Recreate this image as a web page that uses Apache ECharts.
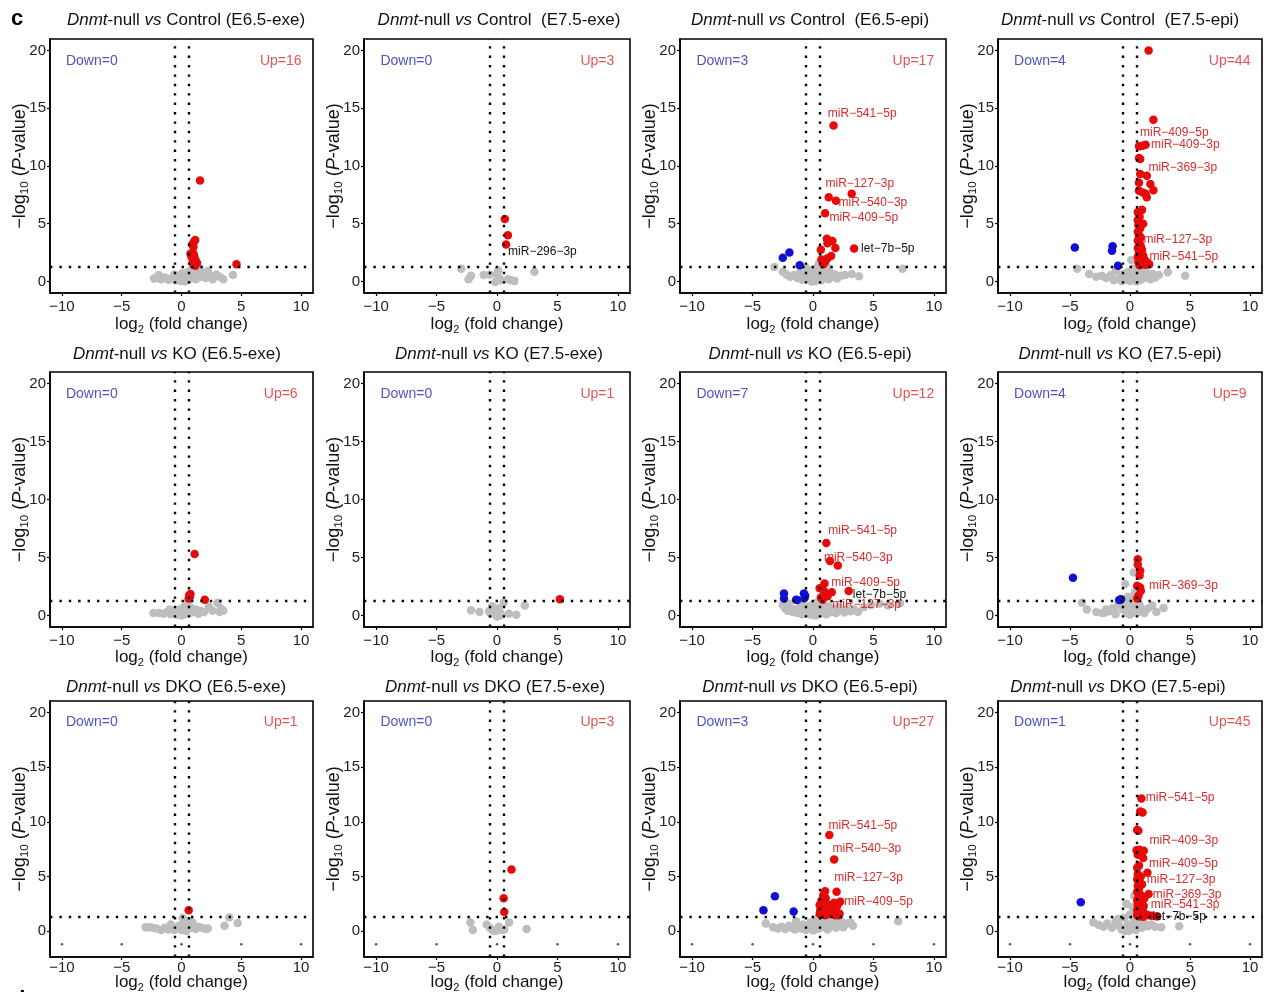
<!DOCTYPE html>
<html><head><meta charset="utf-8">
<script src="https://cdn.jsdelivr.net/npm/echarts@6/dist/echarts.min.js"></script>
<style>html,body{margin:0;padding:0;background:#fff}#c{width:1271px;height:992px}</style>
</head><body><div id="c"></div>
<script>
// ---------------- DATA ----------------
const panelTitles = [
  'Dnmt-null vs Control (E6.5-exe)', 'Dnmt-null vs Control  (E7.5-exe)', 'Dnmt-null vs Control  (E6.5-epi)', 'Dnmt-null vs Control  (E7.5-epi)',
  'Dnmt-null vs KO (E6.5-exe)', 'Dnmt-null vs KO (E7.5-exe)', 'Dnmt-null vs KO (E6.5-epi)', 'Dnmt-null vs KO (E7.5-epi)',
  'Dnmt-null vs DKO (E6.5-exe)', 'Dnmt-null vs DKO (E7.5-exe)', 'Dnmt-null vs DKO (E6.5-epi)', 'Dnmt-null vs DKO (E7.5-epi)'
];
const downCounts = [0, 0, 3, 4, 0, 0, 7, 4, 0, 0, 3, 1];
const upCounts = [16, 3, 17, 44, 6, 1, 12, 9, 1, 3, 27, 45];
const xTicks = [-10, -5, 0, 5, 10];
const yTicks = [0, 5, 10, 15, 20];
const xLimits = [-11, 11];
const yLimitsUpper = [-1, 21];
const yLimitsLower = [-2.37, 21.07];
const fcThreshold = 0.585;
const pThreshold = 1.301;

// Panel 1: Control E6.5-exe
const gray1 = [[-2.3,0.25],[-2.0,0.3],[-1.9,0.55],[-1.7,0.2],[-1.4,0.35],[-1.1,0.15],[-0.8,0.3],[-0.6,0.6],[-0.5,0.1],[-0.3,0.4],[-0.1,0.05],[0.05,0.7],[0.1,0.2],[0.2,0.5],[0.3,0.0],[0.4,0.3],[0.5,0.8],[0.6,0.15],[0.7,0.6],[0.8,1.0],[0.9,0.4],[1.0,0.85],[1.2,0.2],[1.3,0.6],[1.5,1.1],[1.6,0.4],[1.8,0.7],[2.0,0.3],[2.2,0.9],[2.4,0.5],[2.6,0.2],[2.9,0.6],[3.2,0.4],[3.5,0.2],[4.3,0.55]];
const blue1 = [];
const red1 = [[1.55,8.75],[4.6,1.5],[1.15,3.6],[1.05,3.45],[0.9,3.2],[1.0,3.0],[0.75,2.4],[0.95,2.5],[1.05,2.3],[0.85,2.1],[1.1,2.0],[1.2,1.8],[1.3,1.6],[0.95,1.7],[1.0,1.45],[1.15,1.35]];

// Panel 2: Control E7.5-exe
const gray2 = [[-2.95,1.1],[-2.15,0.5],[-2.35,0.2],[-1.1,0.55],[-0.6,0.6],[-0.15,-0.05],[0.0,0.6],[0.1,0.95],[0.2,0.25],[0.3,0.1],[0.9,0.2],[1.2,0.1],[1.45,0.05],[3.1,0.85]];
const blue2 = [];
const red2 = [[0.65,5.4],[0.9,4.0],[0.75,3.2,'miR-296-3p']];

// Panel 3: Control E6.5-epi
const gray3 = [[-3.2,1.25],[-2.5,0.85],[-2.2,0.6],[-1.9,0.4],[-1.6,0.55],[-1.3,0.3],[-1.1,0.7],[-0.9,0.15],[-0.7,0.45],[-0.5,0.9],[-0.35,0.2],[-0.2,0.6],[-0.1,0.0],[0.0,1.0],[0.1,0.35],[0.2,0.05],[0.3,0.7],[0.4,1.3],[0.45,0.25],[0.5,1.6],[0.6,0.5],[0.7,0.1],[0.8,0.8],[0.9,0.35],[1.0,1.1],[1.15,0.55],[1.3,0.2],[1.45,0.75],[1.6,0.4],[1.8,0.6],[2.0,0.25],[2.3,0.5],[2.65,0.55],[3.2,0.65],[3.8,0.45],[7.4,1.1],[-0.6,1.2],[1.2,1.25]];
const blue3 = [[-2.5,2.05],[-1.95,2.5],[-1.1,1.4]];
const red3 = [[1.7,13.5,'miR-541-5p'],[3.2,7.6,'miR-127-3p'],[1.3,7.3],[1.9,7.0,'miR-540-3p'],[1.0,5.9,'miR-409-5p'],[1.15,3.7],[1.3,3.55],[1.6,3.5],[1.2,3.3],[0.65,2.75],[1.85,2.9],[3.4,2.85,'let-7b-5p'],[1.5,2.2],[0.7,1.9],[1.0,1.7],[1.2,2.0],[0.85,1.5]];

// Panel 4: Control E7.5-epi
const gray4 = [[-4.4,1.1],[-3.4,0.65],[-2.8,0.4],[-2.35,0.5],[-2.0,0.3],[-1.6,0.55],[-1.35,0.1],[-1.15,0.95],[-0.9,0.3],[-0.7,0.05],[-0.6,0.6],[-0.4,0.15],[-0.2,0.8],[0.0,0.05],[0.1,0.45],[0.1,1.85],[0.25,1.1],[0.3,0.25],[0.45,0.7],[0.55,0.0],[0.6,1.3],[0.7,0.4],[0.8,0.9],[0.9,0.15],[1.0,0.6],[1.15,1.2],[1.2,0.3],[1.35,0.8],[1.5,0.45],[1.7,0.2],[1.9,0.65],[2.1,0.35],[2.4,0.55],[3.15,0.8],[4.6,0.5]];
const blue4 = [[-4.6,2.95],[-1.45,3.05],[-1.5,2.65],[-1.0,1.35]];
const red4 = [[1.55,20.0],[1.95,14.0],[0.75,11.7],[1.05,11.75,'miR-409-5p'],[1.3,11.85,'miR-409-3p'],[0.75,10.7],[0.85,10.6],[0.85,9.3],[1.4,9.15,'miR-369-3p'],[0.75,8.55],[1.7,8.45],[1.95,7.9],[0.75,7.85],[1.05,7.7],[1.3,7.6],[1.4,7.3],[1.0,6.2],[0.65,6.0],[0.8,5.6],[0.65,5.3],[1.1,5.0],[0.7,4.9],[0.85,4.6],[0.65,4.3],[0.75,4.0],[0.9,3.8],[0.65,3.55,'miR-127-3p'],[0.8,3.3],[0.9,3.05],[0.65,2.9],[1.0,2.75],[0.75,2.6],[0.85,2.4],[1.1,2.25],[0.65,2.15,'miR-541-5p'],[0.9,2.0],[1.2,1.9],[1.3,1.75],[0.7,1.7],[1.45,1.6],[1.0,1.5],[1.3,1.45],[0.8,1.4],[1.6,1.5]];

// Panel 5: KO E6.5-exe
const gray5 = [[-2.35,0.2],[-1.9,0.2],[-1.5,0.15],[-1.2,0.3],[-1.0,0.5],[-0.9,0.1],[-0.6,0.35],[-0.4,0.05],[-0.2,0.5],[0.0,0.0],[0.1,0.3],[0.2,0.7],[0.3,0.1],[0.45,1.0],[0.5,0.45],[0.6,0.9],[0.7,0.2],[0.85,0.6],[1.0,0.3],[1.2,0.5],[1.4,0.15],[1.6,0.4],[1.9,0.3],[2.3,0.75],[2.6,0.4],[3.0,1.1],[3.2,0.3],[3.3,0.6],[3.5,0.4]];
const blue5 = [];
const red5 = [[1.1,5.3],[0.75,1.85],[0.65,1.75],[0.7,1.6],[1.95,1.35],[0.6,1.45]];

// Panel 6: KO E7.5-exe
const gray6 = [[-2.15,0.45],[-1.45,0.3],[-0.65,0.35],[-0.5,0.15],[-0.4,0.8],[-0.25,0.3],[-0.1,0.5],[0.0,-0.1],[0.1,0.6],[0.2,0.0],[0.25,0.25],[0.35,0.05],[0.55,1.1],[1.0,0.15],[1.6,0.05],[2.3,0.85]];
const blue6 = [];
const red6 = [[5.2,1.4]];

// Panel 7: KO E6.5-epi
const gray7 = [[-2.5,0.9],[-2.3,0.6],[-2.1,0.4],[-2.0,1.0],[-1.9,0.7],[-1.7,0.3],[-1.5,0.5],[-1.3,0.2],[-1.1,0.6],[-1.0,1.0],[-0.9,0.1],[-0.8,0.4],[-0.6,0.8],[-0.5,0.2],[-0.3,0.5],[-0.2,0.05],[-0.1,0.9],[0.0,0.3],[0.1,0.6],[0.2,0.0],[0.3,1.1],[0.35,0.4],[0.5,0.7],[0.6,0.15],[0.7,1.0],[0.8,0.35],[1.0,0.6],[1.1,0.1],[1.3,0.8],[1.5,0.3],[1.7,0.55],[1.9,0.2],[2.1,0.7],[2.3,0.4],[2.6,0.25],[2.8,0.6],[3.1,0.35],[3.4,0.5],[3.7,0.3],[4.2,0.7],[4.8,0.9],[5.5,1.0],[6.2,0.85],[7.2,1.05]];
const blue7 = [[-2.4,1.9],[-2.4,1.45],[-1.4,1.35],[-0.75,1.9],[-0.65,1.7],[-0.7,1.5],[-1.3,1.32]];
const red7 = [[1.1,6.25,'miR-541-5p'],[1.4,4.7,'miR-540-3p'],[2.05,4.3],[0.95,2.75,'miR-409-5p'],[0.55,2.35],[2.95,2.1,'let-7b-5p'],[1.55,2.0],[0.9,2.1],[1.2,1.65],[0.65,1.55],[0.8,1.35,'miR-127-3p'],[1.0,1.85]];

// Panel 8: KO E7.5-epi
const gray8 = [[-4.0,1.1],[-3.6,0.5],[-2.8,0.3],[-2.3,0.2],[-2.1,0.25],[-2.0,0.5],[-1.8,0.35],[-1.5,0.6],[-1.3,0.3],[-1.2,0.1],[-1.0,0.9],[-0.6,0.5],[-0.4,2.7],[-0.4,1.1],[-0.3,0.2],[-0.2,1.6],[-0.1,0.7],[0.0,0.05],[0.1,1.5],[0.2,0.4],[0.3,3.7],[0.3,1.0],[0.4,2.0],[0.45,0.25],[0.5,0.6],[0.55,1.2],[0.7,0.3],[0.8,0.9],[1.0,0.5],[1.2,0.2],[1.5,0.6],[1.85,0.85],[2.2,0.3],[2.8,0.65]];
const blue8 = [[-4.75,3.25],[-0.8,1.35],[-0.75,1.4],[-0.9,1.32]];
const red8 = [[0.65,4.85],[0.65,4.4],[0.85,3.85],[0.8,3.45],[0.6,2.55],[0.85,2.4,'miR-369-3p'],[0.9,2.1],[0.7,1.7],[0.6,1.45]];

// Panel 9: DKO E6.5-exe
const gray9 = [[-3.0,0.35],[-2.7,0.35],[-2.4,0.3],[-2.1,0.25],[-1.7,0.1],[-1.4,0.3],[-1.1,0.15],[-0.9,0.6],[-0.8,0.4],[-0.6,0.1],[-0.4,0.3],[-0.2,0.5],[0.0,0.1],[0.1,1.2],[0.2,0.7],[0.3,0.35],[0.4,0.0],[0.5,0.5],[0.6,0.9],[0.8,0.3],[0.9,0.8],[1.0,0.55],[1.2,0.2],[1.4,0.4],[1.7,0.3],[2.0,0.2],[2.2,0.25],[3.6,0.5],[4.0,1.25],[4.7,0.75]];
const blue9 = [];
const red9 = [[0.6,1.9]];

// Panel 10: DKO E7.5-exe
const gray10 = [[-2.2,0.8],[-2.0,0.1],[-0.85,0.6],[-0.6,0.3],[-0.4,0.1],[-0.2,0.0],[0.0,0.05],[0.15,0.4],[0.4,0.1],[0.6,0.15],[1.0,0.8],[2.45,0.2]];
const blue10 = [];
const red10 = [[1.2,5.65],[0.55,3.0],[0.6,1.75]];

// Panel 11: DKO E6.5-epi
const gray11 = [[-3.9,0.7],[-3.3,0.35],[-2.9,0.25],[-2.6,0.4],[-2.3,0.2],[-2.0,0.5],[-1.8,0.3],[-1.5,0.15],[-1.4,0.9],[-1.2,0.45],[-1.0,0.25],[-0.8,0.6],[-0.6,0.1],[-0.4,0.35],[-0.2,0.8],[0.0,0.05],[0.1,0.5],[0.25,1.1],[0.35,0.2],[0.5,0.65],[0.6,0.3],[0.75,1.0],[0.9,0.4],[1.05,0.7],[1.2,0.15],[1.35,1.2],[1.5,0.45],[1.7,0.8],[1.9,0.3],[2.1,0.6],[2.3,0.95],[2.5,0.35],[2.8,0.7],[3.1,0.8],[3.3,0.5],[7.05,0.9]];
const blue11 = [[-3.15,3.2],[-4.1,1.9],[-1.6,1.8]];
const red11 = [[1.35,8.8,'miR-541-5p'],[1.75,6.55,'miR-540-3p'],[1.95,3.6,'miR-127-3p'],[1.0,3.65],[0.85,3.3],[1.05,3.0],[0.7,2.8],[0.55,2.4],[0.9,2.5],[1.3,2.4],[1.5,2.2],[1.75,2.6],[2.25,2.7,'miR-409-5p'],[2.0,2.3],[0.6,1.9],[0.8,2.0],[1.1,1.9],[1.4,1.8],[1.6,1.6],[1.9,1.7],[2.2,1.6],[0.7,1.5],[1.0,1.45],[1.25,1.55],[1.85,1.45],[2.1,1.45],[0.55,1.6]];

// Panel 12: DKO E7.5-epi
const gray12 = [[-3.05,0.8],[-2.6,0.55],[-2.2,0.4],[-1.9,0.7],[-1.5,0.3],[-1.2,0.9],[-1.0,1.1],[-0.9,0.5],[-0.7,0.15],[-0.5,1.2],[-0.4,0.0],[-0.3,2.5],[-0.2,0.6],[-0.1,0.0],[0.0,1.5],[0.1,0.3],[0.2,2.2],[0.3,1.2],[0.35,3.25],[0.4,0.8],[0.5,0.1],[0.5,1.8],[0.65,0.45],[0.8,1.0],[1.0,0.3],[1.2,0.7],[1.5,0.45],[1.8,0.6],[2.1,0.4],[2.6,0.35],[4.1,0.45]];
const blue12 = [[-4.1,2.65]];
const red12 = [[0.95,12.15,'miR-541-5p'],[0.85,10.95],[1.05,10.85],[0.6,9.25],[0.7,9.2],[0.55,7.4],[0.8,7.45],[1.15,7.35,'miR-409-3p'],[0.65,7.0],[1.1,6.7,'miR-409-5p'],[0.75,6.0],[0.6,5.8],[1.45,5.35,'miR-127-3p'],[0.65,5.2],[0.9,5.0],[0.6,4.75],[0.8,4.5],[1.0,4.3],[0.65,4.15],[0.75,3.9],[0.6,3.6],[1.55,3.4,'miR-369-3p'],[0.9,3.3],[0.7,3.1],[1.2,3.0,'miR-541-3p'],[0.6,2.8],[0.85,2.65],[1.0,2.5],[0.65,2.35],[1.15,2.3],[0.75,2.15],[0.9,2.0],[0.6,1.9],[1.05,1.85],[0.7,1.7],[1.2,1.6],[0.85,1.55],[1.35,1.5],[0.6,1.45],[1.0,1.4],[1.5,1.45],[0.75,1.35],[2.25,1.35,'let-7b-5p'],[1.8,1.4],[1.1,1.32]];

// small marks along the bottom of the DKO panels
const bottomMarks = [[-10,-1.2],[-5,-1.2],[0,-1.2],[5,-1.2],[10,-1.2]];

const grays = [gray1,gray2,gray3,gray4,gray5,gray6,gray7,gray8,gray9,gray10,gray11,gray12];
const blues = [blue1,blue2,blue3,blue4,blue5,blue6,blue7,blue8,blue9,blue10,blue11,blue12];
const reds = [red1,red2,red3,red4,red5,red6,red7,red8,red9,red10,red11,red12];

// ---------------- LAYOUT / STYLE ----------------
const FONT = "'Liberation Sans', Arial, Helvetica, sans-serif";
const colLeft = [50, 364, 680, 998];
const colRight = [313, 630, 946, 1262];
const rowTop = [39, 372, 701];
const rowBottom = [293, 627, 957];
const titleX = [[186, 499, 810, 1120], [177, 499, 810, 1120], [176, 495, 810, 1118]];
const titleY = [20, 354, 687];
const xNameGap = [20, 19, 14];
const labelOffsets = [
  {}, {'miR-296-3p': [2, 7]},
  {'miR-541-5p': [-5.7, -12.4], 'miR-127-3p': [-26.2, -9.6], 'miR-540-3p': [2.6, 1.8], 'miR-409-5p': [4.3, 4.4], 'let-7b-5p': [7, 0]},
  {'miR-409-5p': [-2.6, -13.2], 'miR-409-3p': [5.4, 0.3], 'miR-369-3p': [1.6, -8], 'miR-127-3p': [5.6, -1.2], 'miR-541-5p': [11.6, 0]},
  {}, {},
  {'miR-541-5p': [2, -12.6], 'miR-540-3p': [-6, -3.2], 'miR-409-5p': [6.8, -0.8], 'let-7b-5p': [4.2, 4], 'miR-127-3p': [9.6, 4.6]},
  {'miR-369-3p': [8.9, -1.5]},
  {}, {},
  {'miR-541-5p': [-0.8, -9.5], 'miR-540-3p': [-1.6, -10.4], 'miR-127-3p': [-2.4, -14.3], 'miR-409-5p': [4, 0]},
  {'miR-541-5p': [4.4, -1.2], 'miR-409-3p': [5.7, -10.3], 'miR-409-5p': [5.9, 5.3], 'miR-127-3p': [-0.6, 7.2], 'miR-369-3p': [4.2, 0.5], 'miR-541-3p': [6.4, 6.5], 'let-7b-5p': [-4.5, 0]}
];
const blackLabels = ['miR-296-3p', 'let-7b-5p'];
const RED = '#E60A0A', BLUE = '#1010D4', GRAY = '#BEBEBE';
const RED_TXT = '#D92B2B', BLUE_TXT = '#2424B4';
const minus = s => String(s).replace(/-/g, '\u2212');

const grids = [], xAxes = [], yAxes = [], series = [], graphics = [];

for (let i = 0; i < 12; i++) {
  const r = Math.floor(i / 4), c = i % 4;
  const lower = r === 2;
  grids.push({
    left: colLeft[c], top: rowTop[r], width: colRight[c] - colLeft[c], height: rowBottom[r] - rowTop[r],
    show: true, borderColor: '#000', borderWidth: 1.6, backgroundColor: '#fff', outerBoundsMode: 'none'
  });
  xAxes.push({
    type: 'value', gridIndex: i, min: xLimits[0], max: xLimits[1],
    axisLine: {show: true, onZero: false, lineStyle: {color: '#000', width: 1.6}},
    axisTick: {show: true, customValues: xTicks, length: 3, lineStyle: {color: '#000', width: 1.2}},
    axisLabel: {customValues: xTicks, formatter: v => minus(v), color: '#222', fontSize: 15, fontFamily: FONT, margin: lower ? 3 : 6},
    splitLine: {show: false},
    name: 'log{s|2} (fold change)', nameLocation: 'middle', nameGap: xNameGap[r], nameMoveOverlap: false,
    nameTextStyle: {fontSize: 17, color: '#111', fontFamily: FONT, lineHeight: 22,
      rich: {s: {fontSize: 11, lineHeight: 11, verticalAlign: 'bottom', fontFamily: FONT, color: '#111'}}}
  });
  const yl = lower ? yLimitsLower : yLimitsUpper;
  yAxes.push({
    type: 'value', gridIndex: i, min: yl[0], max: yl[1],
    axisLine: {show: true, onZero: false, lineStyle: {color: '#000', width: 1.6}},
    axisTick: {show: true, customValues: yTicks, length: 3, lineStyle: {color: '#000', width: 1.2}},
    axisLabel: {customValues: yTicks, color: '#222', fontSize: 15, fontFamily: FONT, margin: 4},
    splitLine: {show: false},
    name: '\u2212log{s|10} ({i|P}-value)', nameLocation: 'middle', nameRotate: 90, nameGap: 19, nameMoveOverlap: false,
    nameTextStyle: {fontSize: 18, color: '#111', fontFamily: FONT, lineHeight: 22,
      rich: {s: {fontSize: 11.5, lineHeight: 11, verticalAlign: 'bottom', fontFamily: FONT, color: '#111'},
             i: {fontSize: 18, fontStyle: 'italic', fontFamily: FONT, color: '#111'}}}
  });

  // gray points + threshold lines
  series.push({
    type: 'scatter', xAxisIndex: i, yAxisIndex: i, symbolSize: 8.5, silent: true, z: 2,
    itemStyle: {color: GRAY, opacity: 1}, data: grays[i],
    markLine: {silent: true, symbol: 'none', label: {show: false}, animation: false,
      lineStyle: {color: '#000', type: [2.4, 7], width: 2.4, cap: 'butt', opacity: 1},
      data: [{xAxis: -fcThreshold}, {xAxis: fcThreshold}, {yAxis: pThreshold}]}
  });
  if (lower) {
    series.push({type: 'scatter', xAxisIndex: i, yAxisIndex: i, symbolSize: 2.5, silent: true, z: 2,
      itemStyle: {color: '#555', opacity: 1}, data: bottomMarks});
  }
  series.push({type: 'scatter', xAxisIndex: i, yAxisIndex: i, symbolSize: 8.5, silent: true, z: 3,
    itemStyle: {color: BLUE, opacity: 1}, data: blues[i]});
  const offs = labelOffsets[i];
  series.push({
    type: 'scatter', xAxisIndex: i, yAxisIndex: i, symbolSize: 8.5, silent: true, z: 4,
    itemStyle: {color: RED, opacity: 1},
    data: reds[i].map(p => {
      if (p.length < 3) return [p[0], p[1]];
      const name = p[2];
      return {value: [p[0], p[1]], label: {show: true, position: 'inside', align: 'left', verticalAlign: 'middle',
        formatter: minus(name), offset: offs[name] || [6, 0],
        color: blackLabels.includes(name) ? '#111' : RED_TXT, fontSize: 12, fontFamily: FONT}};
    })
  });
  // counts
  series.push({
    type: 'scatter', xAxisIndex: i, yAxisIndex: i, symbolSize: 1, silent: true, z: 5,
    itemStyle: {color: 'rgba(0,0,0,0)'},
    data: [
      {value: [-7.5, 19.1], label: {show: true, position: 'inside', formatter: 'Down=' + downCounts[i], color: BLUE_TXT, fontSize: 14, fontFamily: FONT}},
      {value: [8.3, 19.1], label: {show: true, position: 'inside', formatter: 'Up=' + upCounts[i], color: RED_TXT, fontSize: 14, fontFamily: FONT}}
    ]
  });

  graphics.push({
    type: 'text', x: titleX[r][c], y: titleY[r], silent: true,
    style: {
      text: panelTitles[i].replace('Dnmt', '{i|Dnmt}').replace(' vs ', ' {i|vs} '),
      font: '17px ' + FONT, fill: '#111', textAlign: 'center', textVerticalAlign: 'middle',
      rich: {i: {font: 'italic 17px ' + FONT, fill: '#111'}}
    }
  });
}
graphics.push({type: 'text', x: 11, y: 19, silent: true,
  style: {text: 'c', font: 'bold 22px ' + FONT, fill: '#000', textVerticalAlign: 'middle'}});
graphics.push({type: 'text', x: 12, y: 1000, silent: true,
  style: {text: 'd', font: 'bold 22px ' + FONT, fill: '#000', textVerticalAlign: 'middle'}});

const chart = echarts.init(document.getElementById('c'), null, {renderer: 'canvas'});
chart.setOption({
  animation: false,
  backgroundColor: '#fff',
  textStyle: {fontFamily: FONT},
  grid: grids, xAxis: xAxes, yAxis: yAxes, series: series, graphic: graphics
});
</script></body></html>
